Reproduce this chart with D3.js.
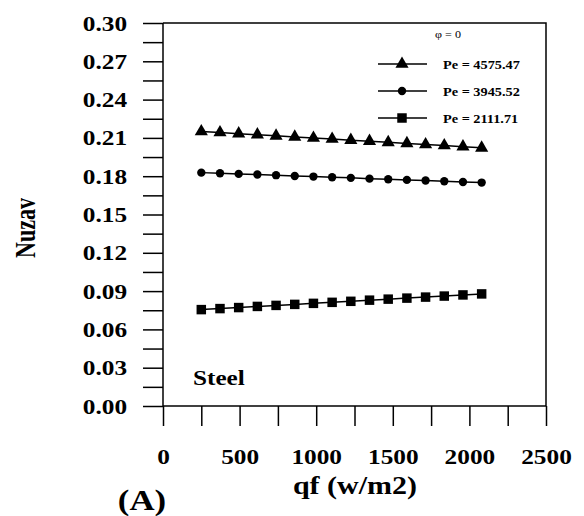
<!DOCTYPE html>
<html>
<head>
<meta charset="utf-8">
<script src="https://cdn.jsdelivr.net/npm/d3@7"></script>
<style>
	body { margin: 0; background: #fff; }
	svg text { font-family: "Liberation Serif", "Times New Roman", serif; }
</style>
</head>
<body>
<svg id="chart" width="584" height="516"></svg>
<script>
	'use strict';

	// heat flux values (w/m2)
	var qf = [250, 372, 494, 616, 738, 860, 982, 1104, 1226, 1348, 1470, 1592, 1714, 1836, 1958, 2080];

	// average Nusselt number, one array per Peclet number
	var nuPe4575 = [0.2150, 0.2142, 0.2133, 0.2125, 0.2116, 0.2108, 0.2099, 0.2091, 0.2082, 0.2074, 0.2065, 0.2057, 0.2048, 0.2040, 0.2031, 0.2022];
	var nuPe3945 = [0.1828, 0.1823, 0.1818, 0.1813, 0.1808, 0.1802, 0.1797, 0.1792, 0.1787, 0.1781, 0.1776, 0.1771, 0.1766, 0.1760, 0.1755, 0.1750];
	var nuPe2111 = [0.0755, 0.0763, 0.0771, 0.0780, 0.0788, 0.0796, 0.0804, 0.0812, 0.0820, 0.0829, 0.0837, 0.0845, 0.0853, 0.0861, 0.0870, 0.0878];

	var seriesNames = ['Pe = 4575.47', 'Pe = 3945.52', 'Pe = 2111.71'];
	var seriesSymbols = [d3.symbolTriangle, d3.symbolCircle, d3.symbolSquare];
	var seriesValues = [nuPe4575, nuPe3945, nuPe2111];

	var xTicks = [0, 500, 1000, 1500, 2000, 2500];
	var yTicks = [0, 0.03, 0.06, 0.09, 0.12, 0.15, 0.18, 0.21, 0.24, 0.27, 0.30];

	var svg = d3.select('#chart');
	var x = d3.scaleLinear().domain([0, 2500]).range([163, 546]);
	var y = d3.scaleLinear().domain([0, 0.30]).range([406, 23]);
	var symbolSize = [75, 55, 90];
	var sx = 1.15; // the original text is a bit wide

	// text placed at (px,py) and stretched horizontally
	function label(px, py, size, str, anchor, weight, stretch){
		return svg.append('text')
			.attr('transform', 'translate(' + px + ',' + py + ') scale(' + (stretch || sx) + ',1)')
			.attr('text-anchor', anchor || 'start')
			.attr('font-size', size)
			.attr('font-weight', weight || 'bold')
			.text(str);
	}

	// frame
	svg.append('path')
		.attr('d', 'M' + x(0) + ',' + y(0.30) + 'H' + x(2500) + 'V' + y(0))
		.attr('fill', 'none')
		.attr('stroke', '#000')
		.attr('stroke-width', 1.5);

	// axes
	var xAxis = d3.axisBottom(x)
		.tickValues(d3.range(0, 2501, 250))
		.tickSize(20)
		.tickFormat(function(d){ return xTicks.indexOf(d) >= 0 ? d : ''; });
	var gx = svg.append('g').attr('transform', 'translate(0,' + y(0) + ')').call(xAxis);

	var yAxis = d3.axisLeft(y)
		.tickValues(d3.range(0, 21).map(function(i){ return i * 0.015; }))
		.tickSize(20)
		.tickFormat(function(d){
			var hit = yTicks.some(function(t){ return Math.abs(t - d) < 1e-9; });
			return hit ? d3.format('.2f')(d) : '';
		});
	var gy = svg.append('g').attr('transform', 'translate(' + x(0) + ',0)').call(yAxis);

	[gx, gy].forEach(function(g){
		g.select('.domain').remove();
		g.selectAll('.tick line').attr('stroke-width', 1.5);
		g.selectAll('text')
			.attr('font-family', '"Liberation Serif", serif')
			.attr('font-weight', 'bold')
			.attr('font-size', 22)
			.attr('fill', '#000')
			.attr('transform', 'scale(' + sx + ',1)');
	});
	svg.append('line').attr('x1', x(0)).attr('x2', x(2500)).attr('y1', y(0)).attr('y2', y(0))
		.attr('stroke', '#000').attr('stroke-width', 1.5);
	svg.append('line').attr('x1', x(0)).attr('x2', x(0)).attr('y1', y(0.30)).attr('y2', y(0))
		.attr('stroke', '#000').attr('stroke-width', 1.5);
	gx.selectAll('text').attr('y', 42).attr('dy', '0.71em');
	gy.selectAll('text').attr('x', -36 / sx);

	// series
	var line = d3.line()
		.x(function(d){ return x(d[0]); })
		.y(function(d){ return y(d[1]); });

	seriesValues.forEach(function(vals, i){
		var pts = qf.map(function(q, j){ return [q, vals[j]]; });
		var g = svg.append('g');
		g.append('path')
			.attr('d', line(pts))
			.attr('fill', 'none')
			.attr('stroke', '#000')
			.attr('stroke-width', 1.5);
		g.selectAll('path.pt')
			.data(pts)
			.enter().append('path')
			.attr('class', 'pt')
			.attr('d', d3.symbol().type(seriesSymbols[i]).size(symbolSize[i]))
			.attr('transform', function(d){ return 'translate(' + x(d[0]) + ',' + y(d[1]) + ')'; })
			.attr('fill', '#000');
	});

	// legend
	label(448, 38, 11, '\u03c6 = 0', 'middle', 'normal', 1.1);
	seriesNames.forEach(function(name, i){
		var ly = 64 + i * 27;
		svg.append('line')
			.attr('x1', 378).attr('x2', 427).attr('y1', ly).attr('y2', ly)
			.attr('stroke', '#000').attr('stroke-width', 1.5);
		svg.append('path')
			.attr('d', d3.symbol().type(seriesSymbols[i]).size(symbolSize[i]))
			.attr('transform', 'translate(402,' + ly + ')');
		label(443, ly + 4.5, 13, name, 'start', 'bold', 1.1);
	});

	// titles
	svg.append('text')
		.attr('transform', 'translate(35,228) rotate(-90) scale(1,1.3)')
		.attr('text-anchor', 'middle')
		.attr('font-size', 22)
		.attr('font-weight', 'bold')
		.text('Nuzav');
	label(355, 494, 25, 'qf (w/m2)', 'middle', 'bold', 1.2);
	label(142, 510, 29, '(A)', 'middle', 'bold', 1.2);
	label(193, 385, 21, 'Steel', 'start', 'bold', 1.2);
</script>
</body>
</html>
